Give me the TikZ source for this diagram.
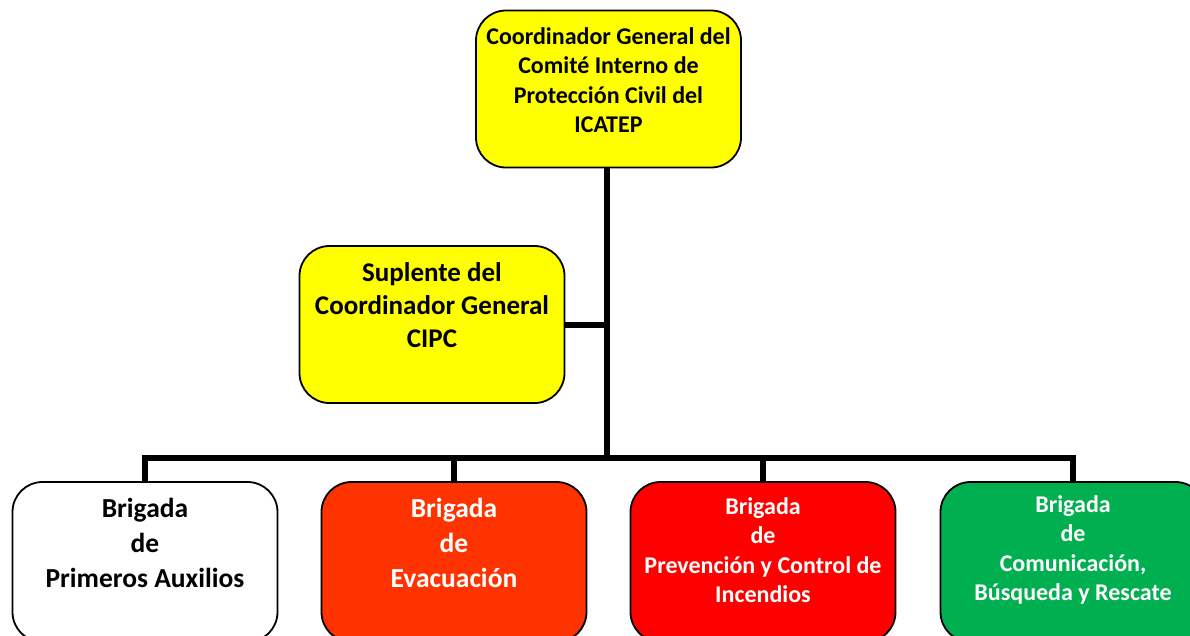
\documentclass[tikz,border=0pt]{standalone}
\usepackage{fontspec}
\setmainfont{Carlito}
\definecolor{yel}{HTML}{FFFF00}
\definecolor{evac}{HTML}{FF3300}
\definecolor{fire}{HTML}{FF0000}
\definecolor{grn}{HTML}{00B050}
\tikzset{
  box/.style={draw=black, line width=1.8pt, rounded corners=30pt, minimum width=265pt, minimum height=157pt, inner sep=0pt},
  conn/.style={line width=6pt, draw=black},
  txtA/.style={align=center, font=\bfseries\fontsize{24}{29.5}\selectfont, inner sep=0pt},
  txtB/.style={align=center, font=\bfseries\fontsize{27.5}{35}\selectfont, inner sep=0pt},
}
\begin{document}
\begin{tikzpicture}[x=1pt,y=-1pt]
\useasboundingbox (0,0) rectangle (1190,635);
\coordinate (bus) at (607,458);
% boxes
\node[box, fill=yel] (top) at (608.5,89) {};
\node[box, fill=yel] (sup) at (432,324.5) {};
\node[box, fill=white, minimum height=160pt] (b1) at (145,562) {};
\node[box, fill=evac, minimum height=160pt] (b2) at (454,562) {};
\node[box, fill=fire, minimum height=160pt] (b3) at (763,562) {};
\node[box, fill=grn, minimum height=160pt] (b4) at (1073,562) {};
% connectors
\draw[conn] (top.south -| bus) -- (bus);
\draw[conn] (sup.east) -- (sup.east -| bus);
\draw[conn] (b1.north) |- (bus) -| (b4.north);
\draw[conn] (b2.north) -- (b2.north |- bus);
\draw[conn] (b3.north) -- (b3.north |- bus);
% texts
\node[txtA] (ttop) at (608.5,80) {Coordinador General del\\Comité Interno de\\Protección Civil del\\ICATEP};
\node[txtB, font=\bfseries\fontsize{27}{33}\selectfont] (tsup) at (432,305) {Suplente del\\Coordinador General\\CIPC};
\node[txtB] (t1) at (145,543) {Brigada\\de\\Primeros Auxilios};
\node[txtB, text=white] (t2) at (454,543) {Brigada\\de\\Evacuación};
\node[txtA, text=white] (t3) at (763,550) {Brigada\\de\\Prevención y Control de\\Incendios};
\node[txtA, text=white] (t4) at (1073,550) {Brigada\\de\\Comunicación,\\Búsqueda y Rescate};
\end{tikzpicture}
\end{document}
